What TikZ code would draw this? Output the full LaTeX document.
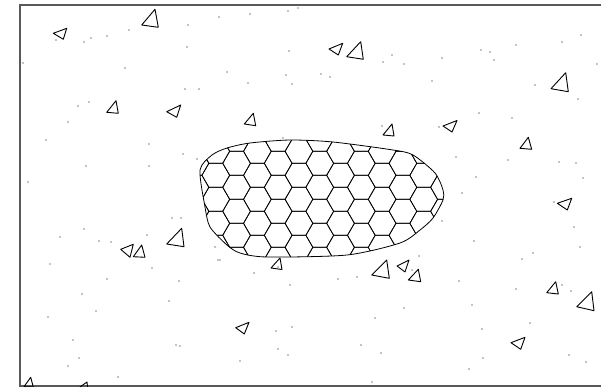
\documentclass[tikz,border=0pt]{standalone}
\usepackage{tikz}
\usetikzlibrary{calc}

\tikzset{
  frame/.style={draw=black!65, line width=1.3pt},
  agg/.style={draw=black, line width=0.9pt, line join=round},
  grain/.style={fill=black},
  hexcell/.style={draw=black, line width=0.7pt},
  blob/.style={draw=black, line width=0.8pt}
}

\begin{document}
\begin{tikzpicture}[x=1pt, y=-1pt]
    \useasboundingbox (0,0) rectangle (601,388);

    % outline of the region
    \draw[frame] (602,5) -- (20,5) -- (20,386) -- (602,386);

    \begin{scope}
    \clip (20,5) rectangle (602,386);

    % scattered grains
    \foreach \x/\y in {23/63, 84/42, 91/38, 107/36, 129/30, 125/68, 188/25, 187/47, 185/89, 199/89,
        78/106, 89/102, 68/122, 56/40,
        219/17, 250/14, 288/11, 298/8, 289/51, 227/72, 248/83, 286/75, 292/84, 321/74, 330/77,
        383/62, 392/55, 382/126,
        404/64, 442/58, 432/81, 481/50, 490/52, 494/60, 516/45, 562/42, 581/35, 597/64, 535/85,
        578/99, 479/113, 512/118, 439/127,
        46/140, 149/144, 183/154, 197/159, 86/166, 149/166, 28/182, 172/218, 181/218, 84/229,
        60/237, 99/241, 111/242, 147/235,
        283/138, 215/247, 220/260,
        456/157, 508/160, 559/162, 576/163, 476/177, 583/178, 462/193, 554/202, 442/221, 574/227,
        580/247, 474/241, 419/256, 533/253, 522/259,
        50/264, 107/279, 152/268, 179/281, 82/294, 169/301, 96/311, 48/317, 73/340, 176/345,
        180/346, 79/358, 68/366, 118/377,
        254/273, 290/285, 338/279, 357/277, 218/260, 276/331, 292/327, 278/349, 288/355, 240/361,
        375/318, 361/345, 381/353, 372/382, 278/267,
        412/270, 459/281, 516/289, 562/285, 571/291, 404/308, 472/305, 530/323, 482/329, 483/358,
        469/369, 569/355, 586/362}
        \fill[grain] (\x,\y) circle (0.7);

    % aggregate triangles
    \foreach \ax/\ay/\bx/\by/\cx/\cy in {
        66.7/28.3/53.3/33.3/63.3/39.3,
        155/9.3/141.7/25/158.3/27.3,
        116/100.7/106.7/112.3/118.3/113.3,
        180.7/105/166.7/111.7/176.7/117.3,
        342.7/43.3/329/49/338.3/55,
        360.7/41.7/346.7/56.7/363.3/59.3,
        253.3/113.3/244.3/124/255.7/125.7,
        565.7/72.7/551/88.7/568.3/91.7,
        457/120.5/443/126/452/132,
        392/124/383/135/394/136,
        133.3/244.3/120.7/249.3/130/257.3,
        141.7/245/133.3/256.7/145/257.3,
        181.7/228.3/166.7/244/184/246.7,
        280/258/271/268/282/269.5,
        386.7/260/371.7/275/389.3/278.3,
        409/260/397/266/405/272,
        418.3/269.3/408.3/280/420.7/281.7,
        555.7/281.7/546.7/292.7/558.3/294,
        591.7/291.7/576.7/306.7/594/310.7,
        525/337.3/511/342.7/520.7/349.3,
        249/322.3/235.7/327.7/244.3/334,
        528.3/137.3/520/148.3/531.7/149.3,
        571.7/198.3/557.3/203.3/567.3/210,
        30.7/377.3/24/386.7/33.3/387,
        87/382/80/387/88/391}
        \draw[agg] (\ax,\ay) -- (\bx,\by) -- (\cx,\cy) -- cycle;
    \end{scope}

    % honeycomb inclusion
    \path[fill=white] plot[smooth cycle, tension=0.45] coordinates {
        (200,170) (212,155) (227,148) (250,143) (290,140) (333,142) (393,150) (413,155)
        (435,173) (443,190) (443,200) (433,218) (420,230) (400,243) (347,255) (267,257)
        (240,253) (227,245) (210,227) (205,207)};
    \begin{scope}
    \clip plot[smooth cycle, tension=0.45] coordinates {
        (200,170) (212,155) (227,148) (250,143) (290,140) (333,142) (393,150) (413,155)
        (435,173) (443,190) (443,200) (433,218) (420,230) (400,243) (347,255) (267,257)
        (240,253) (227,245) (210,227) (205,207)};
    \foreach \k in {0,...,13}
      \foreach \j in {-2,...,5} {
        \pgfmathsetmacro\hx{195+20.79*\k}
        \pgfmathsetmacro\hy{163.3+24*\j-12*mod(\k,2)}
        \draw[hexcell] (\hx,\hy) +(0:13.86) -- +(60:13.86) -- +(120:13.86)
            -- +(180:13.86) -- +(240:13.86) -- +(300:13.86) -- cycle;
      }
    \end{scope}
    \draw[blob] plot[smooth cycle, tension=0.45] coordinates {
        (200,170) (212,155) (227,148) (250,143) (290,140) (333,142) (393,150) (413,155)
        (435,173) (443,190) (443,200) (433,218) (420,230) (400,243) (347,255) (267,257)
        (240,253) (227,245) (210,227) (205,207)};
\end{tikzpicture}
\end{document}
